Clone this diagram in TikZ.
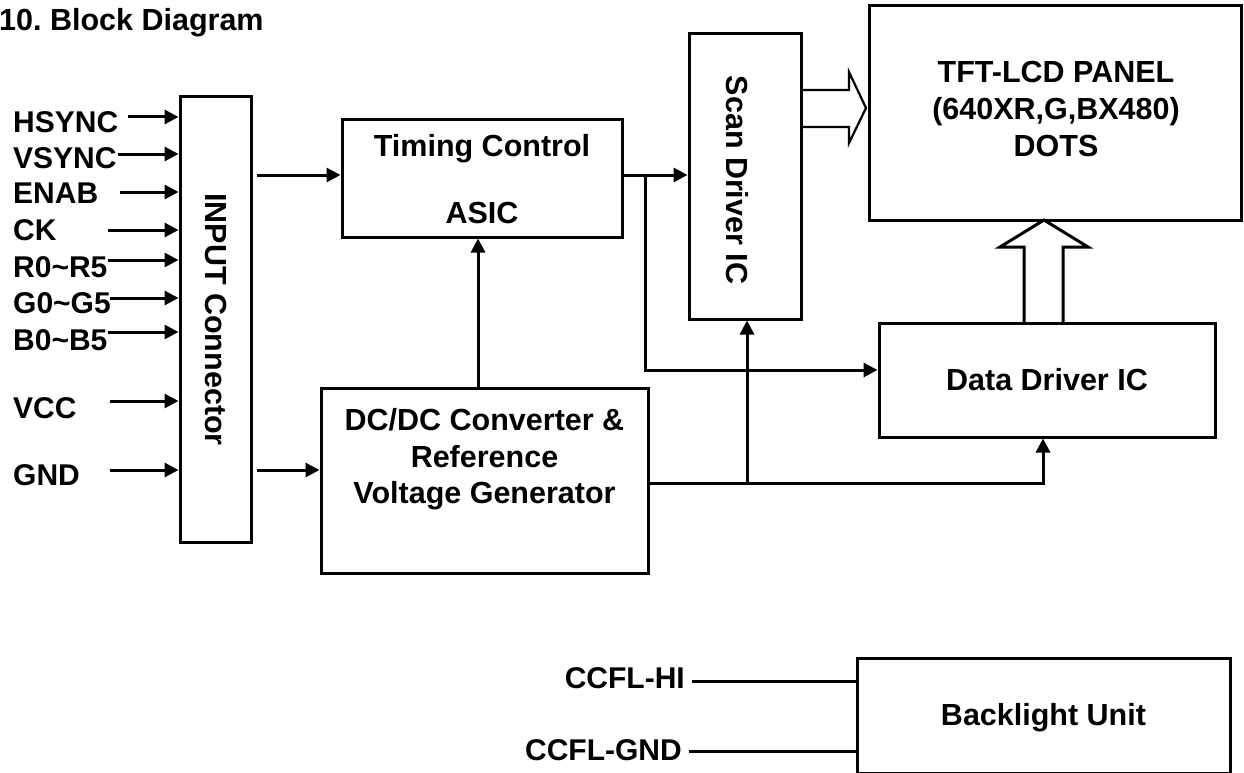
\documentclass[tikz,border=0pt]{standalone}
\usepackage{fontspec}
\setmainfont{Liberation Sans}
\usetikzlibrary{arrows.meta}
\begin{document}
\begin{tikzpicture}[x=1pt,y=-1pt,
  box/.style={draw,line width=3pt,inner sep=0pt},
  txt/.style={font=\fontsize{30.5}{36}\selectfont\bfseries,inner sep=0pt},
  lbl/.style={font=\fontsize{30}{36}\selectfont\bfseries,inner sep=0pt,anchor=base west},
  arr/.style={line width=3pt,-{Triangle[length=14pt,width=14pt]}},
  wire/.style={line width=3pt},
  hollow/.style={line width=2.2pt,line join=miter}
]
\useasboundingbox (0,0) rectangle (1244,773);
\clip (0,0) rectangle (1244,773);
% title
\node[txt,anchor=base west] (title) at (-1,31) {10.\ Block Diagram};
% boxes
\node[box,minimum width=71pt,minimum height=445pt] (conn) at (215.5,319.5) {};
\node[txt,rotate=-90] (connt) at (215.5,319.5) {INPUT Connector};
\node[box,minimum width=280pt,minimum height=117pt] (timing) at (482,178.5) {};
\node[txt,anchor=base] (tim1) at (482,157) {Timing Control};
\node[txt,anchor=base] (tim2) at (482,223) {ASIC};
\node[box,minimum width=112pt,minimum height=285pt] (scan) at (745,176.5) {};
\node[txt,rotate=-90] (scant) at (737,180) {Scan Driver IC};
\node[box,minimum width=372pt,minimum height=214pt] (tft) at (1055,113) {};
\node[txt,anchor=base] (tft1) at (1056,83) {TFT-LCD PANEL};
\node[txt,anchor=base] (tft2) at (1056,120) {(640XR,G,BX480)};
\node[txt,anchor=base] (tft3) at (1056,157) {DOTS};
\node[box,minimum width=336pt,minimum height=114pt] (data) at (1047,380) {};
\node[txt,anchor=base] (datat) at (1047,390) {Data Driver IC};
\node[box,minimum width=327pt,minimum height=185pt] (dcdc) at (484.5,480.5) {};
\node[txt,anchor=base] (dc1) at (484.5,430) {DC/DC Converter \&};
\node[txt,anchor=base] (dc2) at (484.5,467) {Reference};
\node[txt,anchor=base] (dc3) at (484.5,503) {Voltage Generator};
\node[box,minimum width=373pt,minimum height=115pt] (back) at (1043.5,715.5) {};
\node[txt,anchor=base] (backt) at (1043.5,725) {Backlight Unit};
% input labels
\node[lbl] (l1) at (13,132) {HSYNC};
\node[lbl] (l2) at (13,168) {VSYNC};
\node[lbl] (l3) at (13,203) {ENAB};
\node[lbl] (l4) at (13,240) {CK};
\node[lbl] (l5) at (13,277) {R0\textasciitilde R5};
\node[lbl] (l6) at (13,313) {G0\textasciitilde G5};
\node[lbl] (l7) at (13,350) {B0\textasciitilde B5};
\node[lbl] (l8) at (13,418) {VCC};
\node[lbl] (l9) at (13,485) {GND};
\coordinate (a1) at (128,117);
\coordinate (a2) at (118,154);
\coordinate (a3) at (120,192);
\coordinate (a4) at (108,230);
\coordinate (a5) at (108,260);
\coordinate (a6) at (110,298);
\coordinate (a7) at (108,332);
\coordinate (a8) at (110,401);
\coordinate (a9) at (110,470);
\foreach \i in {1,...,9} {\draw[arr] (a\i) -- (a\i -| conn.west);}
% connections
\coordinate (tcy) at (0,175);
\coordinate (gy) at (0,470);
\coordinate (dy) at (0,370);
\coordinate (oy) at (0,483);
\coordinate (vx) at (478,0);
\coordinate (br) at (645,175);
\coordinate (br2) at (747,483);
\coordinate (dx) at (1043,0);
\draw[arr] ([xshift=4pt]conn.east |- tcy) -- (timing.west |- tcy);
\draw[arr] ([xshift=4pt]conn.east |- gy) -- (dcdc.west |- gy);
\draw[arr] (timing.east |- tcy) -- (scan.west |- tcy);
\draw[arr] (br) |- (data.west |- dy);
\draw[arr] (dcdc.north -| vx) -- (timing.south -| vx);
\draw[arr] (dcdc.east |- oy) -| (data.south -| dx);
\draw[arr] (br2) -- (scan.south -| br2);
% hollow arrows
\draw[hollow] (scan.east |- 0,90) -- (849,90) -- (849,72) -- (866,108) -- (849,143) -- (849,127) -- (scan.east |- 0,127);
\draw[hollow,line width=3pt] (1024,323) -- (1024,247) -- (1000,247) -- (1044,220) -- (1088,247) -- (1063,247) -- (1063,323);
% backlight
\node[lbl,anchor=base east] (hi) at (685,688) {CCFL-HI};
\node[lbl,anchor=base east] (gnd) at (682,760) {CCFL-GND};
\coordinate (hiy) at (0,681);
\coordinate (gndy) at (0,751);
\draw[wire] ([xshift=7pt]hi.east |- hiy) -- (back.west |- hiy);
\draw[wire] ([xshift=7pt]gnd.east |- gndy) -- ([xshift=2pt]back.west |- gndy);
\end{tikzpicture}
\end{document}
